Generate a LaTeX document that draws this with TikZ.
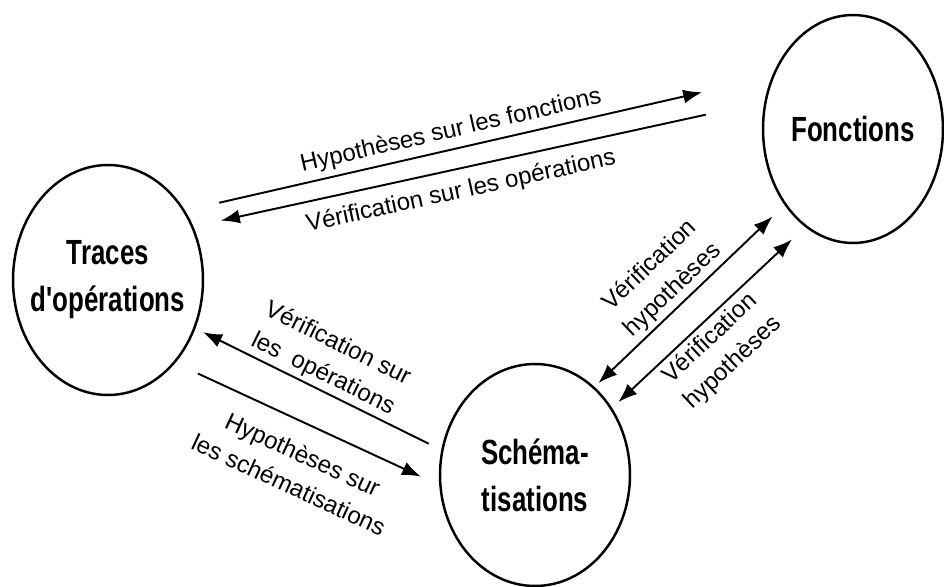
\documentclass[tikz,border=0pt]{standalone}
\usepackage{fontspec}
\setmainfont{Liberation Sans}
\newfontfamily\vongfont[FakeStretch=0.74]{Liberation Sans}
\usepackage{tikz}
\usetikzlibrary{shapes.geometric, arrows.meta}

\begin{document}
\begin{tikzpicture}[x=0.02cm, y=-0.02cm, >={Latex[length=3.8mm,width=2.8mm]},
    vong/.style={draw, ellipse, line width=1.4pt, inner sep=-0.3cm, align=center,
        font=\vongfont\bfseries\fontsize{19.9}{26.7}\selectfont},
    muiten/.style={line width=1.1pt},
    nhan/.style={sloped, align=center, inner sep=1pt,
        font=\fontsize{13.7}{19}\selectfont}]
    \useasboundingbox (0,0) rectangle (944,587);

    % Ba vòng tròn
    \node[vong, minimum width=3.8cm, minimum height=4.6cm] (traces) at (108,280) {Traces\\d'opérations};
    \node[vong, minimum width=3.6cm, minimum height=4.56cm] (fonct) at (853,129) {Fonctions};
    \node[vong, minimum width=3.8cm, minimum height=4.44cm] (schema) at (535,475) {Schéma-\\tisations};

    % Traces <-> Fonctions
    \draw[muiten, ->, shorten <=0.7cm, shorten >=1.43cm] (traces.42) -- (fonct.147)
        node[nhan, above=0.08cm, pos=0.46] {Hypothèses sur les fonctions};
    \draw[muiten, ->, shorten <=1.2cm, shorten >=0.56cm] (fonct.163) -- (traces.32)
        node[nhan, below=0.18cm, pos=0.54] {Vérification sur les opérations};

    % Traces <-> Schématisations
    \draw[muiten, ->, shorten <=0.28cm, shorten >=0.17cm] (schema.165) -- (traces.331)
        node[nhan, above=0.03cm, pos=0.51] {Vérification sur\\les\ \ opérations};
    \draw[muiten, ->, shorten <=0.5cm, shorten >=0.4cm] (traces.309) -- (schema.186)
        node[nhan, below=0.35cm, pos=0.53] {Hypothèses sur\\les schématisations};

    % Schématisations <-> Fonctions
    \draw[muiten, <->, shorten <=0.11cm, shorten >=0.33cm] (schema.56) -- (fonct.228)
        node[nhan, above=0.03cm, pos=0.47] {Vérification\\hypothèses};
    \draw[muiten, <->, shorten <=0.17cm, shorten >=0.36cm] (schema.41) -- (fonct.244)
        node[nhan, below=0.05cm, pos=0.45] {Vérification\\hypothèses};
\end{tikzpicture}
\end{document}
